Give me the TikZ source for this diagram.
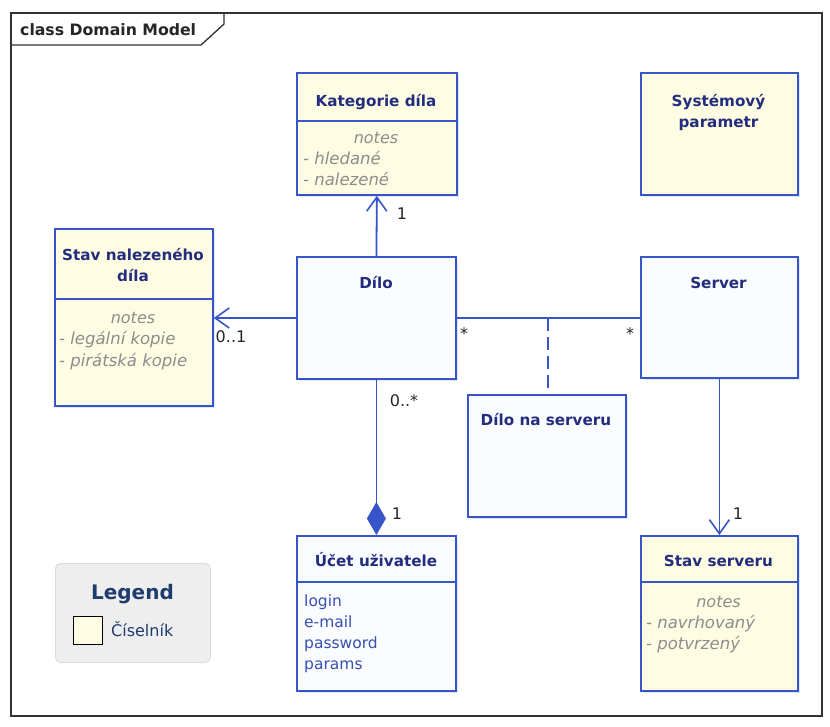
\documentclass[tikz,border=0pt]{standalone}
\usepackage{fontspec}
\setmainfont{DejaVu Sans}
\usetikzlibrary{arrows.meta,calc}
\definecolor{bord}{RGB}{55,85,200}
\definecolor{ttl}{RGB}{35,45,125}
\definecolor{cream}{RGB}{254,253,228}
\definecolor{wbox}{RGB}{250,252,255}
\definecolor{shad}{RGB}{222,232,250}
\definecolor{notec}{RGB}{140,140,140}
\definecolor{attrc}{RGB}{55,80,175}
\definecolor{leg}{RGB}{238,238,238}
\definecolor{legb}{RGB}{218,218,218}
\definecolor{legt}{RGB}{30,60,110}
\definecolor{framec}{RGB}{50,50,50}
\tikzset{
  box/.style={draw=bord, line width=1.8pt, anchor=north west, inner sep=0pt, minimum width=#1},
  ttlt/.style={text=ttl, font=\bfseries\fontsize{15.2}{18}\selectfont, anchor=base, align=center, inner sep=0pt},
  notet/.style={text=notec, font=\itshape\fontsize{16.5}{19}\selectfont, anchor=base west, inner sep=0pt},
  notehd/.style={text=notec, font=\itshape\fontsize{16}{19}\selectfont, anchor=base, inner sep=0pt},
  attrt/.style={text=attrc, font=\fontsize{15.5}{18}\selectfont, anchor=base west, inner sep=0pt},
  mult/.style={text=black!85, font=\fontsize{16}{18}\selectfont, anchor=base, inner sep=0pt},
  conn/.style={draw=bord, line width=1.8pt},
  sep/.style={draw=bord, line width=1.5pt},
  openarr/.style={-{Straight Barb[length=14pt,width=20pt,line width=1.6pt]}}
}
\begin{document}
\begin{tikzpicture}[x=1pt,y=-1pt]
\useasboundingbox (0,0) rectangle (830,726);
\fill[white] (0,0) rectangle (830,726);
% frame
\draw[framec, line width=1.3pt] (11,13) rectangle (822,716);
\draw[framec, line width=1.3pt] (11,45) -- (201,45) -- (224,24) -- (224,13);
\node[anchor=base west, font=\bfseries\fontsize{15.7}{18}\selectfont, text=black!85, inner sep=0pt] (frametitle) at (20,35) {class Domain Model};

% shadows
\fill[shad] (299,75) rectangle (459,197);
\fill[shad] (643,75) rectangle (800,197);
\fill[shad] (57,231) rectangle (215,408);
\fill[shad] (299,259) rectangle (458,381);
\fill[shad] (643,259) rectangle (800,380);
\fill[shad] (470,397) rectangle (628,519);
\fill[shad] (299,538) rectangle (458,693);
\fill[shad] (643,538) rectangle (800,693);

% boxes
\node[box=160pt, minimum height=122pt, fill=cream] (kat) at (296,72) {};
\draw[sep] (296,121) -- (456,121);
\node[ttlt] (katt) at (376,106) {Kategorie díla};
\node[notehd] (katn) at (376,143) {notes};
\node[notet] (kat1) at (303,164) {- hledané};
\node[notet] (kat2) at (303,185) {- nalezené};

\node[box=157pt, minimum height=122pt, fill=cream] (sys) at (640,72) {};
\node[ttlt] (syst1) at (718.5,106) {Systémový};
\node[ttlt] (syst2) at (718.5,127) {parametr};

\node[box=158pt, minimum height=177pt, fill=cream] (stav) at (54,228) {};
\draw[sep] (54,299) -- (212,299);
\node[ttlt] (stavt1) at (133,260) {Stav nalezeného};
\node[ttlt] (stavt2) at (133,281) {díla};
\node[notehd] (stavn) at (133,323) {notes};
\node[notet] (stav1) at (59,344) {- legální kopie};
\node[notet] (stav2) at (59,366) {- pirátská kopie};

\node[box=159pt, minimum height=122pt, fill=wbox] (dilo) at (296,256) {};
\node[ttlt] (dilot) at (376,288) {Dílo};

\node[box=157pt, minimum height=121pt, fill=wbox] (server) at (640,256) {};
\node[ttlt] (servert) at (718.5,288) {Server};

\node[box=158pt, minimum height=122pt, fill=wbox] (dns) at (467,394) {};
\node[ttlt] (dnst) at (546,425) {Dílo na serveru};

\node[box=159pt, minimum height=155pt, fill=wbox] (ucet) at (296,535) {};
\draw[sep] (296,582) -- (455,582);
\node[ttlt] (ucett) at (376,566) {Účet uživatele};
\node[attrt] (u1) at (304,606) {login};
\node[attrt] (u2) at (304,627) {e-mail};
\node[attrt] (u3) at (304,648) {password};
\node[attrt] (u4) at (304,669) {params};

\node[box=157pt, minimum height=155pt, fill=cream] (ss) at (640,535) {};
\draw[sep] (640,582) -- (797,582);
\node[ttlt] (sst) at (718.5,566) {Stav serveru};
\node[notehd] (ssn) at (718.5,607) {notes};
\node[notet] (ss1) at (646,628) {- navrhovaný};
\node[notet] (ss2) at (646,649) {- potvrzený};

% legend
\node[draw=legb, fill=leg, rounded corners=5pt, anchor=north west, minimum width=155pt, minimum height=99pt, inner sep=0pt, line width=0.8pt] (legend) at (55,563) {};
\node[anchor=base, text=legt, font=\bfseries\fontsize{20}{24}\selectfont, inner sep=0pt] (legt) at (132.5,599) {Legend};
\node[draw=black, fill=cream, line width=1.3pt, anchor=north west, minimum width=29pt, minimum height=28pt, inner sep=0pt] (legbox) at (73,616) {};
\node[anchor=base west, text=legt, font=\fontsize{16}{18}\selectfont, inner sep=0pt] (legl) at (111,636) {Číselník};

% connectors
\draw[conn, openarr] (dilo.north) -- (kat.south);
\node[mult] (m1) at (402,219) {1};
\draw[conn, openarr] (dilo.west |- 0,318) -- (stav.east |- 0,318);
\node[mult] (m2) at (231,342) {0..1};
\coordinate (mid) at (548,318);
\draw[conn] (dilo.east |- 0,318) -- (server.west |- 0,318);
\node[mult] (m3) at (464,339) {*};
\node[mult] (m4) at (630,339) {*};
\draw[conn, dash pattern=on 13pt off 6pt] (mid) -- (mid |- dns.north);
\draw[conn, -{Diamond[length=33pt,width=19pt]}] (dilo.south) -- (ucet.north);
\node[mult] (m5) at (404,406) {0..*};
\node[mult] (m6) at (397,519) {1};
\draw[conn, openarr] (server.south) -- (ss.north);
\node[mult] (m7) at (738,519) {1};
\end{tikzpicture}
\end{document}
